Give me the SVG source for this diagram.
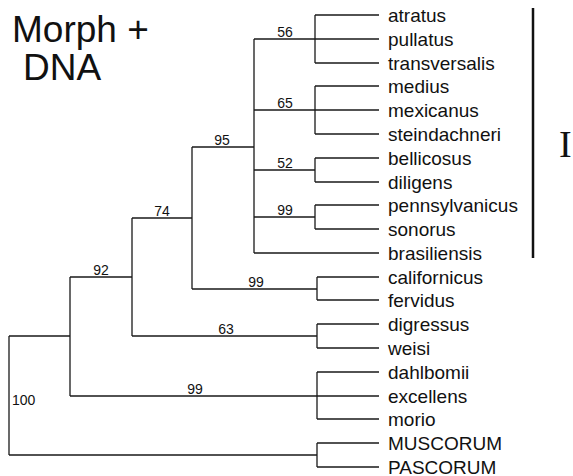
<svg xmlns="http://www.w3.org/2000/svg" width="573" height="476" viewBox="0 0 573 476">
<style>
.ln{stroke:#1a1a1a;stroke-width:1.3;fill:none}
.tx{font-family:"Liberation Sans",Arial,sans-serif;font-size:19px;fill:#111}
.bs{font-family:"Liberation Sans",Arial,sans-serif;font-size:14px;fill:#111;text-anchor:middle}
.ti{font-family:"Liberation Sans",Arial,sans-serif;font-size:37px;fill:#111}
</style>
<rect width="573" height="476" fill="#fff"/>
<g id="title">
<text class="ti" x="12" y="42">Morph +</text>
<text class="ti" x="23" y="80">DNA</text>
</g>
<g id="connectors" class="ln">
<path d="M315,15H379M254,39H379M315,63H379M315,15V63"/>
<path d="M315,86H379M254,110H379M315,134H379M315,86V134"/>
<path d="M315,158H379M315,182H379M315,158V182M254,170H315"/>
<path d="M315,205H379M315,229H379M315,205V229M254,217H315"/>
<path d="M254,253H379M254,39V253M192,147H254"/>
<path d="M317,277H379M317,300H379M317,277V300M192,289H317"/>
<path d="M192,147V289M132,218H192"/>
<path d="M317,324H379M317,348H379M317,324V348M132,336H317"/>
<path d="M132,218V336M70,277H132"/>
<path d="M317,372H379M70,396H379M317,419H379M317,372V419"/>
<path d="M70,277V396M9,336H70"/>
<path d="M317,443H379M317,467H379M317,443V467M9,455H317"/>
<path d="M9,336V455"/>
</g>
<g id="support">
<text class="bs" x="285" y="37">56</text>
<text class="bs" x="285" y="108">65</text>
<text class="bs" x="285" y="168">52</text>
<text class="bs" x="285" y="215">99</text>
<text class="bs" x="222" y="145">95</text>
<text class="bs" x="256" y="287">99</text>
<text class="bs" x="162" y="216">74</text>
<text class="bs" x="226" y="334">63</text>
<text class="bs" x="101" y="275">92</text>
<text class="bs" x="195" y="394">99</text>
<text class="bs" x="12" y="405" style="text-anchor:start">100</text>
</g>
<g id="taxa">
<text class="tx" x="388" y="21.5">atratus</text>
<text class="tx" x="388" y="45.5">pullatus</text>
<text class="tx" x="388" y="69.5">transversalis</text>
<text class="tx" x="388" y="92.5">medius</text>
<text class="tx" x="388" y="116.5">mexicanus</text>
<text class="tx" x="388" y="140.5">steindachneri</text>
<text class="tx" x="388" y="164.5">bellicosus</text>
<text class="tx" x="388" y="188.5">diligens</text>
<text class="tx" x="388" y="211.5">pennsylvanicus</text>
<text class="tx" x="388" y="235.5">sonorus</text>
<text class="tx" x="388" y="259.5">brasiliensis</text>
<text class="tx" x="388" y="283.5">californicus</text>
<text class="tx" x="388" y="306.5">fervidus</text>
<text class="tx" x="388" y="330.5">digressus</text>
<text class="tx" x="388" y="354.5">weisi</text>
<text class="tx" x="388" y="378.5">dahlbomii</text>
<text class="tx" x="388" y="402.5">excellens</text>
<text class="tx" x="388" y="425.5">morio</text>
<text class="tx" x="388" y="449.5">MUSCORUM</text>
<text class="tx" x="388" y="473.5">PASCORUM</text>
</g>
<g id="group-I">
<line x1="533" y1="8" x2="533" y2="258" stroke="#111" stroke-width="2.5"/>
<text x="559" y="157" style="font-family:'Liberation Serif','Times New Roman',serif;font-size:38px;fill:#111">I</text>
</g>
</svg>
